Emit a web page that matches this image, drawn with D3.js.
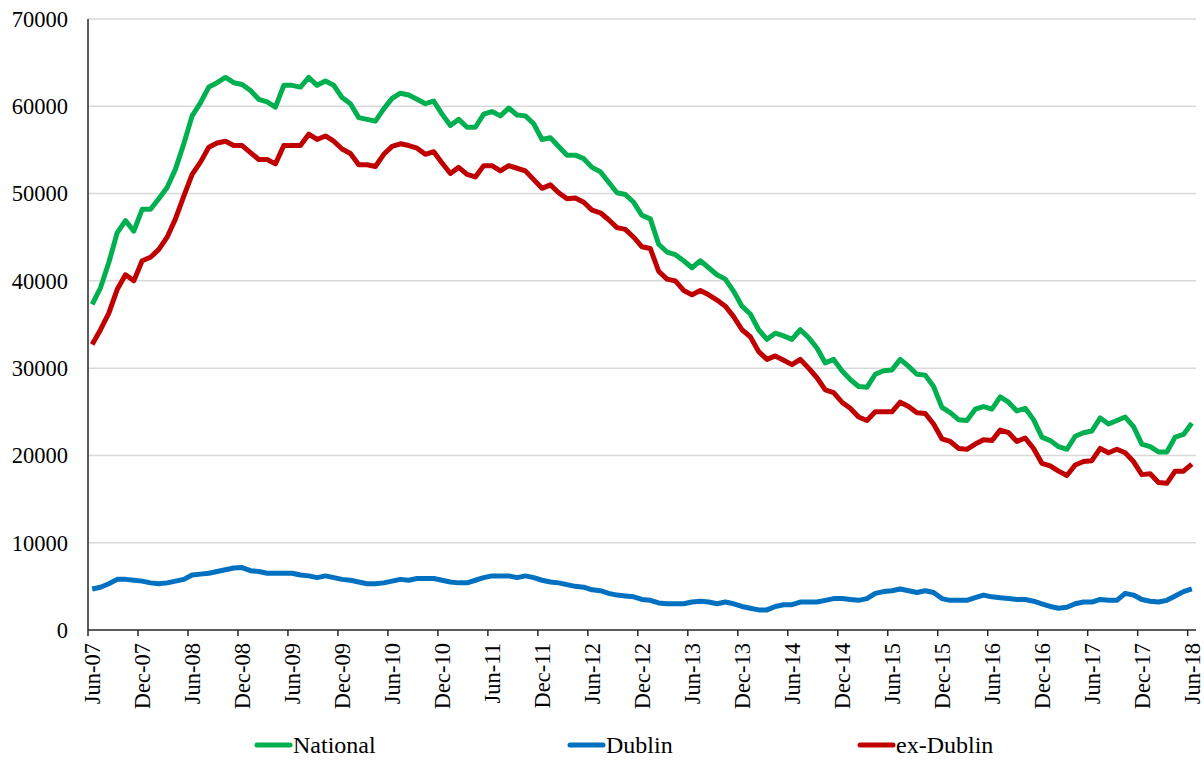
<!DOCTYPE html>
<html lang="en">
<head>
  <meta charset="UTF-8">
  <title>National / Dublin / ex-Dublin</title>
  <script src="https://d3js.org/d3.v7.min.js"></script>
  <style>
    body { margin: 0; background: #fff; }
    text { font-family: "Times New Roman", "Liberation Serif", serif; fill: #000; }
  </style>
</head>
<body>
<script>
  // monthly values, Jun-07 .. Jun-18
  var national = [
    37300,39200,42100,45500,46900,45700,48200,48200,49400,50700,
    52800,55700,58900,60400,62200,62700,63300,62700,62500,61800,
    60800,60500,59900,62400,62400,62200,63300,62400,62900,62400,
    61000,60300,58700,58500,58300,59700,60900,61500,61300,60800,
    60300,60600,59100,57800,58500,57600,57600,59100,59400,58900,
    59800,59000,58900,58000,56200,56400,55400,54400,54400,54000,
    53000,52500,51300,50100,49900,49000,47500,47100,44200,43300,
    43000,42300,41500,42300,41500,40700,40200,38800,37100,36200,
    34400,33300,34000,33700,33300,34400,33500,32300,30600,31000,
    29700,28700,27900,27800,29300,29700,29800,31000,30200,29300,
    29200,27900,25500,24900,24100,24000,25300,25600,25300,26700,
    26100,25100,25400,24100,22100,21700,21000,20700,22200,22600,
    22800,24300,23600,24000,24400,23300,21300,21000,20400,20400,
    22100,22400,23700];

  var dublin = [
    4700,4900,5300,5800,5800,5700,5600,5400,5300,5400,
    5600,5800,6300,6400,6500,6700,6900,7100,7150,6800,
    6700,6500,6500,6500,6500,6300,6200,6000,6200,6000,
    5800,5700,5500,5300,5300,5400,5600,5800,5700,5900,
    5900,5900,5700,5500,5400,5400,5700,6000,6200,6200,
    6200,6000,6200,6000,5700,5500,5400,5200,5000,4900,
    4600,4500,4200,4000,3900,3800,3500,3400,3100,3000,
    3000,3000,3200,3300,3200,3000,3200,3000,2700,2500,
    2300,2300,2700,2900,2900,3200,3200,3200,3400,3600,
    3600,3500,3400,3600,4200,4400,4500,4700,4500,4300,
    4500,4300,3600,3400,3400,3400,3700,4000,3800,3700,
    3600,3500,3500,3300,3000,2700,2500,2600,3000,3200,
    3200,3500,3400,3400,4200,4000,3500,3300,3200,3400,
    3900,4400,4700];

  var exDublin = [
    32700,34400,36300,39000,40700,40000,42300,42700,43600,45000,
    47100,49700,52200,53600,55300,55800,56000,55500,55500,54700,
    53900,53900,53400,55500,55500,55500,56800,56200,56600,56000,
    55100,54600,53300,53300,53100,54500,55400,55700,55500,55200,
    54500,54800,53500,52300,53000,52200,51900,53200,53200,52600,
    53200,52900,52600,51600,50600,51000,50100,49400,49500,49000,
    48100,47800,47000,46100,45900,45000,43900,43700,41100,40200,
    40000,38900,38400,38900,38400,37800,37100,35900,34400,33600,
    31900,31000,31400,30900,30400,31000,30000,28900,27500,27200,
    26100,25400,24400,24000,25000,25000,25000,26100,25600,24900,
    24800,23600,21900,21600,20800,20700,21300,21800,21700,22900,
    22600,21600,22000,20800,19100,18800,18200,17700,18900,19300,
    19400,20800,20300,20700,20300,19300,17800,17900,16900,16800,
    18200,18200,19000];

  var months = d3.timeMonth.range(new Date(2007, 5, 1), new Date(2018, 6, 1));
  var tickLabels = ["Jun-07","Dec-07","Jun-08","Dec-08","Jun-09","Dec-09","Jun-10","Dec-10",
    "Jun-11","Dec-11","Jun-12","Dec-12","Jun-13","Dec-13","Jun-14","Dec-14","Jun-15","Dec-15",
    "Jun-16","Dec-16","Jun-17","Dec-17","Jun-18"];
  var yTicks = [0,10000,20000,30000,40000,50000,60000,70000];

  var series = [
    { name: "National", values: national, color: "#00b050", lx: 255 },
    { name: "Dublin", values: dublin, color: "#0070c0", lx: 568 },
    { name: "ex-Dublin", values: exDublin, color: "#c00000", lx: 858 }
  ];

  var width = 1204, height = 760;
  var plot = { left: 88, right: 1196, top: 19, bottom: 630 };

  var svg = d3.select("body").append("svg")
    .attr("width", width)
    .attr("height", height);

  var x = d3.scaleBand()
    .domain(d3.range(months.length))
    .range([plot.left, plot.right]);

  var y = d3.scaleLinear()
    .domain([0, 70000])
    .range([plot.bottom, plot.top]);

  var cx = function (i) { return x(i) + x.bandwidth() / 2; };

  // gridlines
  svg.append("g").selectAll("line")
    .data(yTicks.slice(1))
    .enter().append("line")
    .attr("x1", plot.left).attr("x2", plot.right)
    .attr("y1", function (d) { return y(d); })
    .attr("y2", function (d) { return y(d); })
    .style("stroke", "#d9d9d9")
    .style("stroke-width", 1.5);

  // y labels
  svg.append("g").selectAll("text")
    .data(yTicks)
    .enter().append("text")
    .attr("x", 68)
    .attr("y", function (d) { return y(d); })
    .attr("dy", "0.35em")
    .attr("text-anchor", "end")
    .style("font-size", "22.5px")
    .text(function (d) { return d; });

  // axes lines
  svg.append("line")
    .attr("x1", plot.left).attr("x2", plot.left)
    .attr("y1", plot.top).attr("y2", plot.bottom)
    .style("stroke", "#262626").style("stroke-width", 1.5);
  svg.append("line")
    .attr("x1", plot.left).attr("x2", plot.right)
    .attr("y1", plot.bottom).attr("y2", plot.bottom)
    .style("stroke", "#262626").style("stroke-width", 1.5);

  var tickIdx = tickLabels.map(function (d, k) { return k * 6; });

  svg.append("g").selectAll("line")
    .data(tickIdx)
    .enter().append("line")
    .attr("x1", function (i) { return x(i); })
    .attr("x2", function (i) { return x(i); })
    .attr("y1", plot.bottom).attr("y2", plot.bottom + 6)
    .style("stroke", "#262626").style("stroke-width", 1.5);

  svg.append("g").selectAll("text")
    .data(tickIdx)
    .enter().append("text")
    .attr("transform", function (i) { return "translate(" + cx(i) + "," + (plot.bottom + 13) + ") rotate(-90)"; })
    .attr("dy", "0.35em")
    .attr("text-anchor", "end")
    .style("font-size", "22.5px")
    .text(function (i, k) { return tickLabels[k]; });

  // lines
  var line = d3.line()
    .x(function (d, i) { return cx(i); })
    .y(function (d) { return y(d); });

  svg.append("g").selectAll("path")
    .data(series)
    .enter().append("path")
    .attr("d", function (s) { return line(s.values); })
    .style("fill", "none")
    .style("stroke", function (s) { return s.color; })
    .style("stroke-width", 5)
    .style("stroke-linejoin", "round");

  // legend
  var leg = svg.append("g").selectAll("g")
    .data(series)
    .enter().append("g");
  leg.append("line")
    .attr("x1", function (s) { return s.lx + 2; })
    .attr("x2", function (s) { return s.lx + 35; })
    .attr("y1", 745).attr("y2", 745)
    .style("stroke", function (s) { return s.color; })
    .style("stroke-width", 5)
    .style("stroke-linecap", "round");
  leg.append("text")
    .attr("x", function (s) { return s.lx + 38; })
    .attr("y", 745)
    .attr("dy", "0.35em")
    .style("font-size", "24px")
    .text(function (s) { return s.name; });
</script>
</body>
</html>
